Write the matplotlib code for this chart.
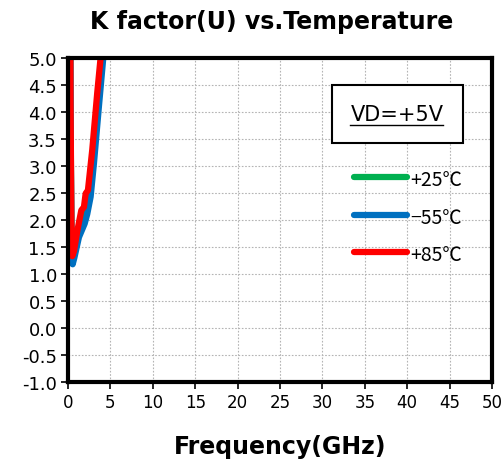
import numpy as np
import matplotlib.pyplot as plt

# data
freq_red = [0.2, 0.3, 0.4, 0.5, 0.7, 1.1, 1.57, 1.88, 2.08, 2.35, 2.86, 3.45, 3.84, 4.1]
k_red = [9.0, 4.2, 2.0, 1.33, 1.42, 1.8, 2.18, 2.24, 2.49, 2.55, 3.3, 4.36, 5.0, 5.6]

freq_blue = [0.2, 0.3, 0.4, 0.55, 0.75, 1.29, 1.96, 2.27, 2.67, 3.06, 3.65, 4.16, 4.4]
k_blue = [8.5, 3.8, 1.8, 1.18, 1.3, 1.68, 1.93, 2.11, 2.43, 3.05, 4.11, 5.0, 5.6]

freq_green = [0.2, 0.3, 0.4, 0.52, 0.72, 1.2, 1.8, 2.2, 2.5, 2.95, 3.55, 4.0, 4.3]
k_green = [8.8, 4.0, 1.9, 1.25, 1.35, 1.75, 2.05, 2.3, 2.5, 3.15, 4.2, 5.0, 5.6]

series = [
    ("+25℃", freq_green, k_green, "#00b050"),
    ("\u221255℃", freq_blue, k_blue, "#0070c0"),
    ("+85℃", freq_red, k_red, "#ff0000"),
]

xticks = np.arange(0, 51, 5)
yticks = np.arange(-1.0, 5.01, 0.5)

fig = plt.figure(figsize=(5.01, 4.64), dpi=100)
ax = fig.add_axes([68 / 501, 1 - 383 / 464, (492 - 68) / 501, (383 - 59) / 464])

for label, f, k, c in series:
    ax.plot(f, k, color=c, linewidth=4.5, solid_capstyle="round", solid_joinstyle="round")

ax.set_xlim(0, 50)
ax.set_ylim(-1.0, 5.0)
ax.set_xticks(xticks)
ax.set_yticks(yticks)
ax.set_yticklabels([f"{v:.1f}" for v in yticks])
ax.grid(True, color="#b4b4b4", linestyle=(0, (1.5, 1.5)), linewidth=0.8)
for s in ax.spines.values():
    s.set_linewidth(3)
    s.set_color("black")
ax.tick_params(direction="out", length=5, width=1.2, labelsize=12, pad=3)
ax.tick_params(axis="y", labelsize=13, pad=3)

fig.text(272 / 501, 1 - 22 / 464, "K factor(U) vs.Temperature", ha="center", va="center",
         fontsize=17, fontweight="bold")
fig.text(280 / 501, 1 - 447 / 464, "Frequency(GHz)", ha="center", va="center",
         fontsize=17, fontweight="bold")

# annotation box
fig.text((331 + 464) / 2 / 501, 1 - 115 / 464, "VD=+5V", ha="center", va="center",
         fontsize=15, zorder=3,
         bbox=dict(boxstyle="square,pad=0.9", facecolor="white", edgecolor="black", linewidth=1.5))
fig.add_artist(plt.Line2D([350 / 501, 443 / 501], [1 - 126 / 464, 1 - 126 / 464],
                          color="black", linewidth=1, zorder=5))

# legend drawn by hand
for i, (label, f, k, c) in enumerate(series):
    y = 1 - (178 + i * 37.5) / 464
    fig.add_artist(plt.Line2D([354 / 501, 407 / 501], [y, y], color=c, linewidth=4.5, solid_capstyle="round"))
    fig.text(410 / 501, y - 0.006, label, ha="left", va="center", fontsize=14,
             family=["Noto Sans CJK JP", "DejaVu Sans"])

fig.savefig("out.png", dpi=100)
